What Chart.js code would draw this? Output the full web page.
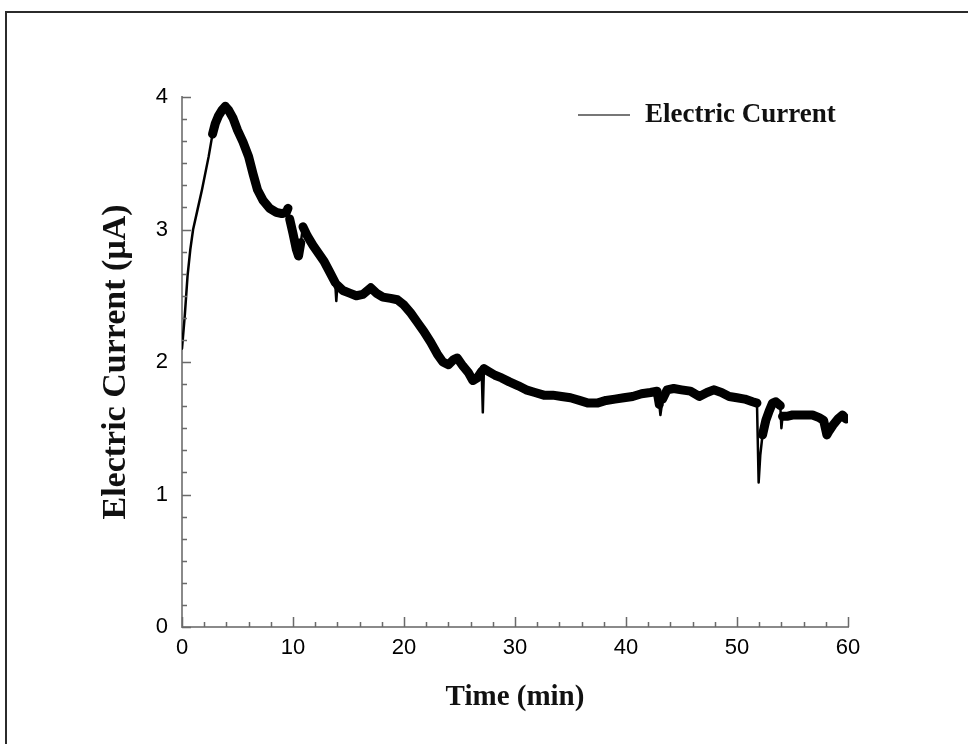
<!DOCTYPE html>
<html>
<head>
<meta charset="utf-8">
<script src="https://cdn.jsdelivr.net/npm/chart.js@4.4.1/dist/chart.umd.min.js"></script>
<style>
  html, body { margin: 0; padding: 0; width: 968px; height: 744px; overflow: hidden; background: #fff; }
  #frame { position: absolute; left: 5px; top: 11px; width: 1000px; height: 800px; border: 2px solid #2b2b2b; pointer-events: none; }
  canvas { position: absolute; left: 0; top: 0; }
</style>
</head>
<body>
<canvas id="c" width="968" height="744"></canvas>
<div id="frame"></div>
<script>
// ---- data ----
const seriesLabel = 'Electric Current';
const time = [0, 0.25, 0.5, 0.75, 1.0, 1.4, 1.8, 2.4, 2.75, 3.0,
  3.3, 3.6, 3.9, 4.2, 4.6, 5.0, 5.5, 6.0, 6.4, 6.8,
  7.3, 7.9, 8.5, 9.0, 9.4, 9.55, 9.7, 10.0, 10.3, 10.5,
  10.7, 10.9, 11.3, 11.8, 12.3, 12.8, 13.3, 13.8, 13.9, 14.0,
  14.5, 15.1, 15.7, 16.3, 17.0, 17.5, 18.1, 18.8, 19.4, 20.0,
  20.6, 21.2, 21.8, 22.4, 23.0, 23.5, 24.0, 24.5, 24.8, 25.3,
  25.8, 26.2, 26.6, 27.0, 27.1, 27.2, 27.6, 28.2, 28.8, 29.5,
  30.3, 31.0, 31.8, 32.6, 33.4, 34.2, 35.0, 35.8, 36.6, 37.4,
  38.2, 39.0, 39.8, 40.6, 41.4, 42.2, 42.8, 43.0, 43.1, 43.3,
  43.7, 44.3, 45.0, 45.8, 46.6, 47.3, 47.9, 48.6, 49.3, 50.0,
  50.7, 51.4, 51.8, 51.95, 52.1, 52.3, 52.6, 52.9, 53.2, 53.5,
  53.9, 54.0, 54.1, 54.5, 55.0, 55.6, 56.2, 56.8, 57.4, 57.8,
  58.1, 58.3, 58.7, 59.1, 59.5, 59.8];
const current = [2.1, 2.35, 2.65, 2.85, 3.0, 3.15, 3.3, 3.55, 3.72, 3.8,
  3.86, 3.9, 3.93, 3.9, 3.84, 3.75, 3.66, 3.55, 3.42, 3.3,
  3.22, 3.16, 3.13, 3.12, 3.13, 3.16, 3.08, 2.97, 2.85, 2.8,
  2.9, 3.02, 2.95, 2.88, 2.82, 2.76, 2.68, 2.6, 2.46, 2.58,
  2.54, 2.52, 2.5, 2.51, 2.56, 2.52, 2.49, 2.48, 2.47, 2.43,
  2.37, 2.3, 2.23, 2.15, 2.06, 2.0, 1.98, 2.02, 2.03, 1.97,
  1.92, 1.86, 1.88, 1.93, 1.62, 1.95, 1.93, 1.9, 1.88, 1.85,
  1.82, 1.79, 1.77, 1.75, 1.75, 1.74, 1.73, 1.71, 1.69, 1.69,
  1.71, 1.72, 1.73, 1.74, 1.76, 1.77, 1.78, 1.68, 1.6, 1.72,
  1.79, 1.8, 1.79, 1.78, 1.74, 1.77, 1.79, 1.77, 1.74, 1.73,
  1.72, 1.7, 1.69, 1.09, 1.3, 1.45, 1.56, 1.63, 1.69, 1.7,
  1.67, 1.5, 1.59, 1.59, 1.6, 1.6, 1.6, 1.6, 1.58, 1.56,
  1.45, 1.48, 1.53, 1.57, 1.6, 1.57];
const xMajorTicks = [0, 10, 20, 30, 40, 50, 60];
const xMinorStep = 2;
const yMajorTicks = [0, 1, 2, 3, 4];
const yMinorPerMajor = 6;
const xTitle = 'Time (min)';
const yTitle = 'Electric Current (μA)';
const warmupEnd = 2.75;

// ---- styling helpers ----
const AXIS_COLOR = '#8a8a8a';
const TICK_COLOR = '#6a6a6a';
const LINE_W = 9;
const THIN_W = 2.5;
const TICK_FONT = { family: '"Liberation Sans Narrow", "Liberation Sans", Arial, sans-serif', size: 22 };

const axisTicks = {
  id: 'axisTicks',
  afterDraw(chart) {
    const { ctx, chartArea, scales: { x, y } } = chart;
    ctx.save();
    ctx.strokeStyle = TICK_COLOR;
    ctx.lineWidth = 1.5;
    ctx.beginPath();
    for (let v = x.min; v <= x.max + 1e-9; v += xMinorStep) {
      const px = Math.round(x.getPixelForValue(v)) + 0.5;
      const len = xMajorTicks.includes(v) ? 10 : 5;
      ctx.moveTo(px, chartArea.bottom);
      ctx.lineTo(px, chartArea.bottom - len);
    }
    const nY = (yMajorTicks.length - 1) * yMinorPerMajor;
    for (let k = 0; k <= nY; k++) {
      const v = yMajorTicks[0] + k / yMinorPerMajor;
      const py = Math.round(y.getPixelForValue(v)) + 0.5;
      const len = (k % yMinorPerMajor === 0) ? 9 : 5;
      ctx.moveTo(chartArea.left, py);
      ctx.lineTo(chartArea.left + len, py);
    }
    ctx.stroke();
    ctx.restore();
  }
};

const insetLegend = {
  id: 'insetLegend',
  afterDraw(chart) {
    const { ctx, chartArea } = chart;
    const lx = chartArea.right - 270;
    const ly = chartArea.top + 18;
    ctx.save();
    ctx.strokeStyle = '#777';
    ctx.lineWidth = 2;
    ctx.beginPath();
    ctx.moveTo(lx, ly);
    ctx.lineTo(lx + 52, ly);
    ctx.stroke();
    ctx.fillStyle = '#111';
    ctx.font = 'bold 27px "Liberation Serif", "DejaVu Serif", serif';
    ctx.textBaseline = 'middle';
    ctx.textAlign = 'left';
    ctx.fillText(chart.data.datasets[0].label, lx + 67, ly);
    ctx.restore();
  }
};

const points = time.map((t, i) => ({ x: t, y: current[i] }));

new Chart(document.getElementById('c'), {
  type: 'line',
  data: {
    datasets: [{
      label: seriesLabel,
      data: points,
      borderColor: '#000',
      borderWidth: LINE_W,
      borderJoinStyle: 'round',
      borderCapStyle: 'round',
      pointRadius: 0,
      tension: 0,
      segment: {
        borderWidth: (c) => {
          const dx = Math.abs(c.p1.x - c.p0.x);
          const dy = Math.abs(c.p1.y - c.p0.y);
          if (time[c.p1DataIndex] <= warmupEnd) return THIN_W;
          if (dy > 6 * dx) return THIN_W;
          return LINE_W;
        }
      }
    }]
  },
  options: {
    responsive: false,
    animation: false,
    events: [],
    layout: { padding: { top: 97, right: 120, left: 0, bottom: 0 } },
    plugins: { legend: { display: false }, tooltip: { enabled: false } },
    scales: {
      x: {
        type: 'linear',
        min: 0, max: 60,
        afterBuildTicks: (s) => { s.ticks = xMajorTicks.map(v => ({ value: v })); },
        afterFit: (s) => { s.height = 117; },
        grid: { display: false, drawTicks: false },
        border: { display: true, color: AXIS_COLOR, width: 2 },
        ticks: {
          padding: 8, autoSkip: false, maxRotation: 0,
          color: '#000',
          font: TICK_FONT
        },
        title: {
          display: true, text: xTitle, color: '#111',
          font: { family: '"Liberation Serif", "DejaVu Serif", serif', size: 29, weight: 'bold' },
          padding: { top: 0, bottom: 29 }
        }
      },
      y: {
        type: 'linear',
        min: 0, max: 4,
        afterBuildTicks: (s) => { s.ticks = yMajorTicks.map(v => ({ value: v })); },
        afterFit: (s) => { s.width = 182; },
        grid: { display: false, drawTicks: false },
        border: { display: true, color: AXIS_COLOR, width: 2 },
        ticks: {
          padding: 14,
          color: '#000',
          font: TICK_FONT
        },
        title: {
          display: true, text: yTitle, color: '#111',
          font: { family: '"Liberation Serif", "DejaVu Serif", serif', size: 34, weight: 'bold' },
          padding: { top: 96, bottom: 0 }
        }
      }
    }
  },
  plugins: [axisTicks, insetLegend]
});
</script>
</body>
</html>
